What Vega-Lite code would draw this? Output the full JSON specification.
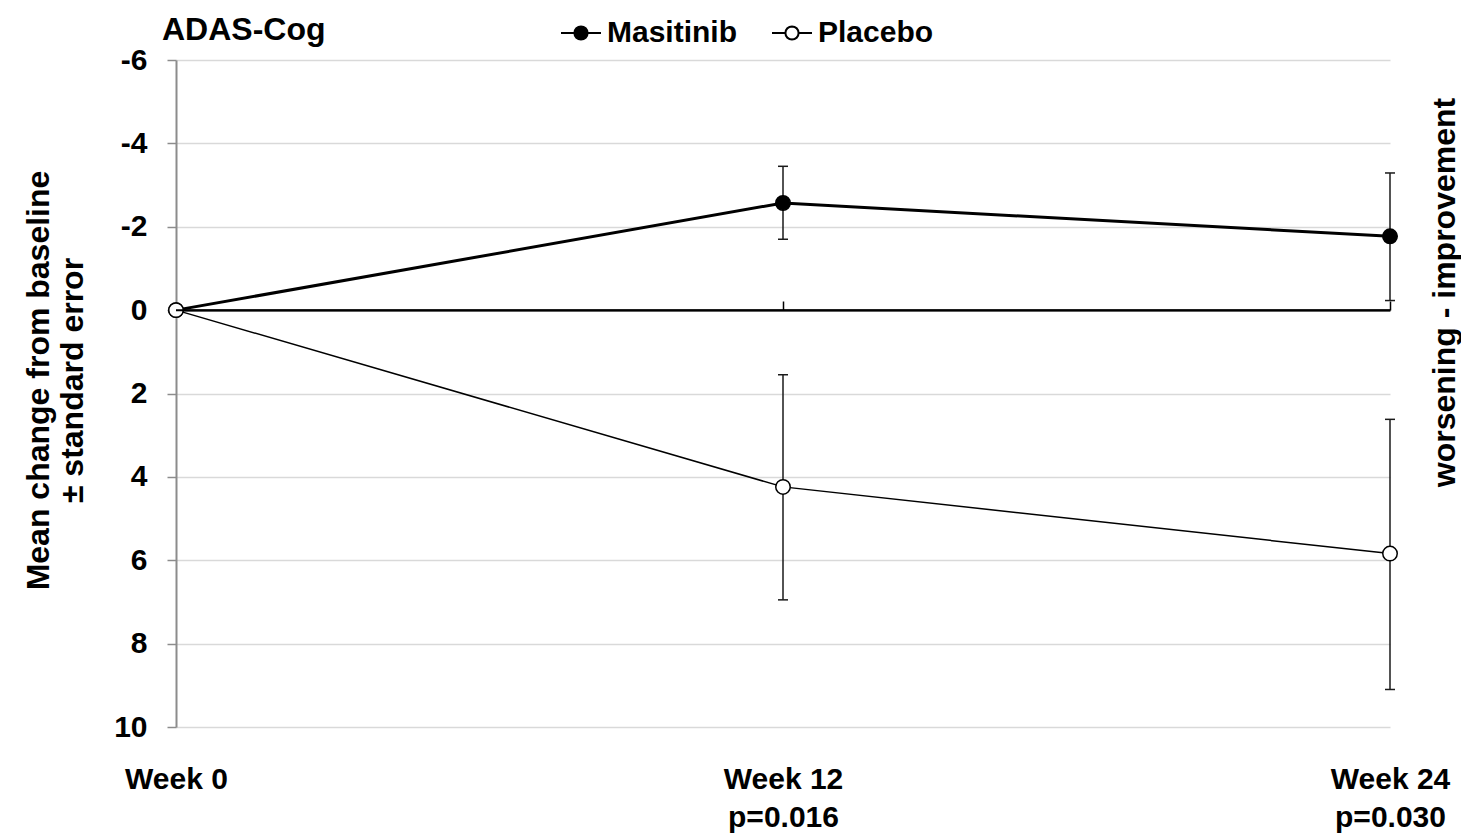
{
  "$schema": "https://vega.github.io/schema/vega-lite/v6.json",
  "width": 1214,
  "height": 667,
  "padding": {"left": 22, "top": 12, "right": 5, "bottom": 5},
  "background": "white",
  "config": {
    "font": "Liberation Sans",
    "view": {"stroke": null},
    "axis": {"labelFont": "Liberation Sans", "titleFont": "Liberation Sans"},
    "legend": {"labelFont": "Liberation Sans", "titleFont": "Liberation Sans"}
  },
  "data": {
    "values": [
      {"week": 0, "series": "Masitinib", "mean": 0, "lo": 0, "hi": 0},
      {"week": 12, "series": "Masitinib", "mean": -2.57, "lo": -3.45, "hi": -1.70},
      {"week": 24, "series": "Masitinib", "mean": -1.77, "lo": -3.29, "hi": -0.23},
      {"week": 0, "series": "Placebo", "mean": 0, "lo": 0, "hi": 0},
      {"week": 12, "series": "Placebo", "mean": 4.24, "lo": 1.55, "hi": 6.95},
      {"week": 24, "series": "Placebo", "mean": 5.84, "lo": 2.62, "hi": 9.10}
    ]
  },
  "layer": [
    {
      "layer": [
        {
          "transform": [{"filter": "datum.week > 0"}],
          "mark": {"type": "rule", "color": "#1a1a1a", "strokeWidth": 1.5},
          "encoding": {
            "x": {
              "field": "week",
              "type": "quantitative",
              "scale": {"domain": [0, 24], "nice": false, "zero": false},
              "axis": {
                "orient": "bottom",
                "values": [0, 12, 24],
                "labelExpr": "datum.value == 0 ? 'Week 0' : datum.value == 12 ? ['Week 12', 'p=0.016'] : ['Week 24', 'p=0.030']",
                "domain": false,
                "ticks": false,
                "grid": false,
                "labelFontSize": 30,
                "labelFontWeight": "bold",
                "labelColor": "black",
                "labelBaseline": "top",
                "labelPadding": 37,
                "labelLineHeight": 38,
                "labelAlign": "center",
                "labelFlush": false,
                "labelOverlap": false,
                "title": null
              }
            },
            "y": {
              "field": "lo",
              "type": "quantitative",
              "scale": {"domain": [-6, 10], "reverse": true, "nice": false, "zero": false},
              "axis": {
                "orient": "left",
                "values": [-6, -4, -2, 0, 2, 4, 6, 8, 10],
                "labelExpr": "'' + datum.value",
                "labelFontSize": 30,
                "labelFontWeight": "bold",
                "labelColor": "black",
                "labelPadding": 20,
                "tickSize": 9,
                "tickColor": "#8c8c8c",
                "tickWidth": 1.5,
                "domainColor": "#8c8c8c",
                "domainWidth": 2,
                "grid": true,
                "gridColor": "#d9d9d9",
                "gridWidth": 1.5,
                "title": ["Mean change from baseline", "± standard error"],
                "titleFontSize": 32,
                "titleFontWeight": "bold",
                "titleColor": "black",
                "titleAngle": 270,
                "titleX": -138,
                "titleY": 320,
                "titleAlign": "center",
                "titleBaseline": "middle",
                "titleLineHeight": 34
              }
            },
            "y2": {"field": "hi"}
          }
        },
        {
          "transform": [{"filter": "datum.week > 0"}],
          "mark": {"type": "tick", "orient": "horizontal", "size": 10, "thickness": 1.5, "color": "#1a1a1a", "opacity": 1},
          "encoding": {
            "x": {"field": "week", "type": "quantitative"},
            "y": {"field": "lo", "type": "quantitative"}
          }
        },
        {
          "transform": [{"filter": "datum.week > 0"}],
          "mark": {"type": "tick", "orient": "horizontal", "size": 10, "thickness": 1.5, "color": "#1a1a1a", "opacity": 1},
          "encoding": {
            "x": {"field": "week", "type": "quantitative"},
            "y": {"field": "hi", "type": "quantitative"}
          }
        },
        {
          "transform": [{"filter": "datum.series == 'Masitinib'"}],
          "mark": {"type": "line", "color": "black", "strokeWidth": 3},
          "encoding": {
            "x": {"field": "week", "type": "quantitative"},
            "y": {"field": "mean", "type": "quantitative"}
          }
        },
        {
          "transform": [{"filter": "datum.series == 'Placebo'"}],
          "mark": {"type": "line", "color": "black", "strokeWidth": 1.5},
          "encoding": {
            "x": {"field": "week", "type": "quantitative"},
            "y": {"field": "mean", "type": "quantitative"}
          }
        },
        {
          "mark": {"type": "point", "shape": "circle", "filled": true, "stroke": "black", "strokeWidth": 1.5, "size": 210, "opacity": 1},
          "encoding": {
            "x": {"field": "week", "type": "quantitative"},
            "y": {"field": "mean", "type": "quantitative"},
            "color": {
              "field": "series",
              "type": "nominal",
              "scale": {"domain": ["Masitinib", "Placebo"], "range": ["black", "white"]},
              "legend": {
                "orient": "none",
                "legendX": -14,
                "legendY": -48,
                "direction": "horizontal",
                "title": "ADAS-Cog",
                "titleOrient": "left",
                "titleFontSize": 32,
                "titleFontWeight": "bold",
                "titleColor": "black",
                "titlePadding": 234,
                "symbolType": "M-1,0L-0.33,0M0.33,0L1,0M0.33,0L0.305,0.126L0.233,0.233L0.126,0.305L0,0.33L-0.126,0.305L-0.233,0.233L-0.305,0.126L-0.33,0L-0.305,-0.126L-0.233,-0.233L-0.126,-0.305L0,-0.33L0.126,-0.305L0.233,-0.233L0.305,-0.126Z",
                "symbolSize": 1600,
                "symbolStrokeColor": "black",
                "symbolStrokeWidth": 2,
                "symbolOpacity": 1,
                "labelFontSize": 30,
                "labelFontWeight": "bold",
                "labelColor": "black",
                "labelOffset": 5,
                "columnPadding": 30
              }
            }
          }
        }
      ]
    },
    {
      "mark": {"type": "rule", "color": "black", "strokeWidth": 2},
      "encoding": {
        "x": {
          "field": "week",
          "aggregate": "min",
          "type": "quantitative",
          "axis": {
            "orient": "top",
            "offset": -250,
            "values": [12, 24],
            "domain": true,
            "domainColor": "black",
            "domainWidth": 2,
            "ticks": true,
            "tickColor": "black",
            "tickWidth": 1.5,
            "tickSize": 9,
            "labels": false,
            "grid": false,
            "title": null
          }
        },
        "x2": {"field": "week", "aggregate": "max"},
        "y": {
          "datum": 0,
          "type": "quantitative",
          "axis": {
            "orient": "right",
            "title": "worsening - improvement",
            "titleFontSize": 32,
            "titleFontWeight": "bold",
            "titleColor": "black",
            "titleAngle": 270,
            "titleX": 54,
            "titleY": 232,
            "titleAlign": "center",
            "titleBaseline": "middle",
            "labels": false,
            "ticks": false,
            "domain": false,
            "grid": false
          }
        }
      }
    }
  ],
  "resolve": {"axis": {"x": "independent", "y": "independent"}}
}
